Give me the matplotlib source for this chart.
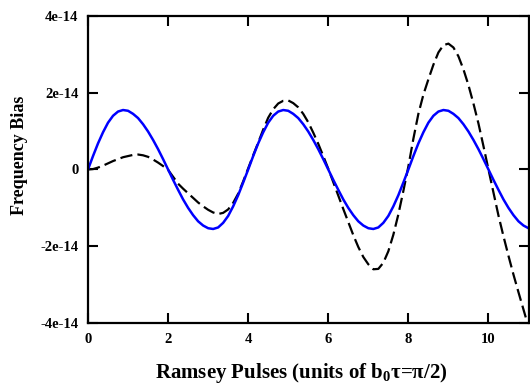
import matplotlib
matplotlib.use("Agg")
import matplotlib.pyplot as plt

# Sample positions along the x axis (units of b0*tau = pi/2)
pulses = [0, 0.125, 0.25, 0.375, 0.5, 0.625, 0.75, 0.875,
          1, 1.125, 1.25, 1.375, 1.5, 1.625, 1.75, 1.875,
          2, 2.125, 2.25, 2.375, 2.5, 2.625, 2.75, 2.875,
          3, 3.125, 3.25, 3.375, 3.5, 3.625, 3.75, 3.875,
          4, 4.125, 4.25, 4.375, 4.5, 4.625, 4.75, 4.875,
          5, 5.125, 5.25, 5.375, 5.5, 5.625, 5.75, 5.875,
          6, 6.125, 6.25, 6.375, 6.5, 6.625, 6.75, 6.875,
          7, 7.125, 7.25, 7.375, 7.5, 7.625, 7.75, 7.875,
          8, 8.125, 8.25, 8.375, 8.5, 8.625, 8.75, 8.875,
          9, 9.125, 9.25, 9.375, 9.5, 9.625, 9.75, 9.875,
          10, 10.125, 10.25, 10.375, 10.5, 10.625, 10.75, 10.875,
          11]

# Frequency bias, in units of 1e-14
bias_solid = [0, 0.35, 0.68, 0.97, 1.22, 1.40, 1.51, 1.55,
              1.53, 1.45, 1.34, 1.18, 0.99, 0.77, 0.53, 0.27,
              0, -0.27, -0.53, -0.78, -1.00, -1.19, -1.35, -1.46,
              -1.53, -1.55, -1.51, -1.39, -1.21, -0.96, -0.67, -0.34,
              0, 0.35, 0.68, 0.97, 1.22, 1.40, 1.51, 1.55,
              1.53, 1.45, 1.34, 1.18, 0.99, 0.77, 0.53, 0.27,
              0, -0.27, -0.53, -0.78, -1.00, -1.19, -1.35, -1.46,
              -1.53, -1.55, -1.51, -1.39, -1.21, -0.96, -0.67, -0.34,
              0, 0.35, 0.68, 0.97, 1.22, 1.40, 1.51, 1.55,
              1.53, 1.45, 1.34, 1.18, 0.99, 0.77, 0.53, 0.27,
              0, -0.27, -0.53, -0.78, -1.00, -1.19, -1.35, -1.46,
              -1.53]

bias_dashed = [0, 0.01, 0.05, 0.10, 0.16, 0.22, 0.27, 0.32,
               0.35, 0.38, 0.39, 0.37, 0.33, 0.26, 0.18, 0.09,
               -0.01, -0.19, -0.37, -0.50, -0.62, -0.74, -0.86, -0.96,
               -1.05, -1.12, -1.16, -1.13, -1.04, -0.87, -0.63, -0.31,
               0.03, 0.37, 0.70, 1.04, 1.35, 1.57, 1.72, 1.79,
               1.80, 1.73, 1.62, 1.45, 1.23, 0.96, 0.67, 0.35,
               0.02, -0.33, -0.68, -1.03, -1.37, -1.71, -2.02, -2.28,
               -2.47, -2.60, -2.59, -2.43, -2.13, -1.70, -1.17, -0.56,
               0.08, 0.80, 1.45, 1.95, 2.35, 2.73, 3.05, 3.24,
               3.28, 3.18, 2.95, 2.61, 2.20, 1.72, 1.20, 0.61,
               0.0, -0.60, -1.20, -1.74, -2.25, -2.74, -3.20, -3.65,
               -4.10]

x_ticks = [0, 2, 4, 6, 8, 10]
y_ticks = [-4e-14, -2e-14, 0, 2e-14, 4e-14]
y_tick_labels = ["-4e-14", "-2e-14", "0", "2e-14", "4e-14"]

plt.rcParams['font.family'] = ['Liberation Serif', 'DejaVu Serif']
plt.rcParams['font.weight'] = 'bold'
plt.rcParams['mathtext.fontset'] = 'custom'
plt.rcParams['mathtext.rm'] = 'Liberation Serif:bold'
plt.rcParams['mathtext.bf'] = 'Liberation Serif:bold'

fig = plt.figure(figsize=(5.3, 3.85), dpi=100)
ax = fig.add_axes([88 / 530, 1 - 323 / 385, 440.5 / 530, 307 / 385])

scale = 1e-14
ax.plot(pulses, [v * scale for v in bias_dashed], color='black',
        linewidth=1.6, dashes=(5.5, 2.3))
ax.plot(pulses, [v * scale for v in bias_solid], color='#0000ff',
        linewidth=1.8)

ax.set_xlim(0, 11)
ax.set_ylim(-4e-14, 4e-14)
ax.set_xticks(x_ticks)
ax.set_xticklabels([str(t) for t in x_ticks])
ax.set_yticks(y_ticks)
ax.set_yticklabels(y_tick_labels)

for spine in ax.spines.values():
    spine.set_linewidth(1.6)
ax.tick_params(direction='in', length=7.5, width=1.5, top=True, right=True,
               labelsize=10.5)
ax.tick_params(axis='x', pad=7)
ax.tick_params(axis='y', pad=7)

fig.text(301 / 530, 7 / 385, r'Ramsey Pulses (units of b$_{\mathbf{0}}$τ=π/2)',
         ha='center', va='baseline', fontsize=15, fontweight='bold')
fig.text(20 / 530, 1 - 155 / 385, 'Frequency Bias', rotation=90,
         ha='center', va='center', fontsize=13, fontweight='bold')

fig.savefig("out.png", dpi=100)
